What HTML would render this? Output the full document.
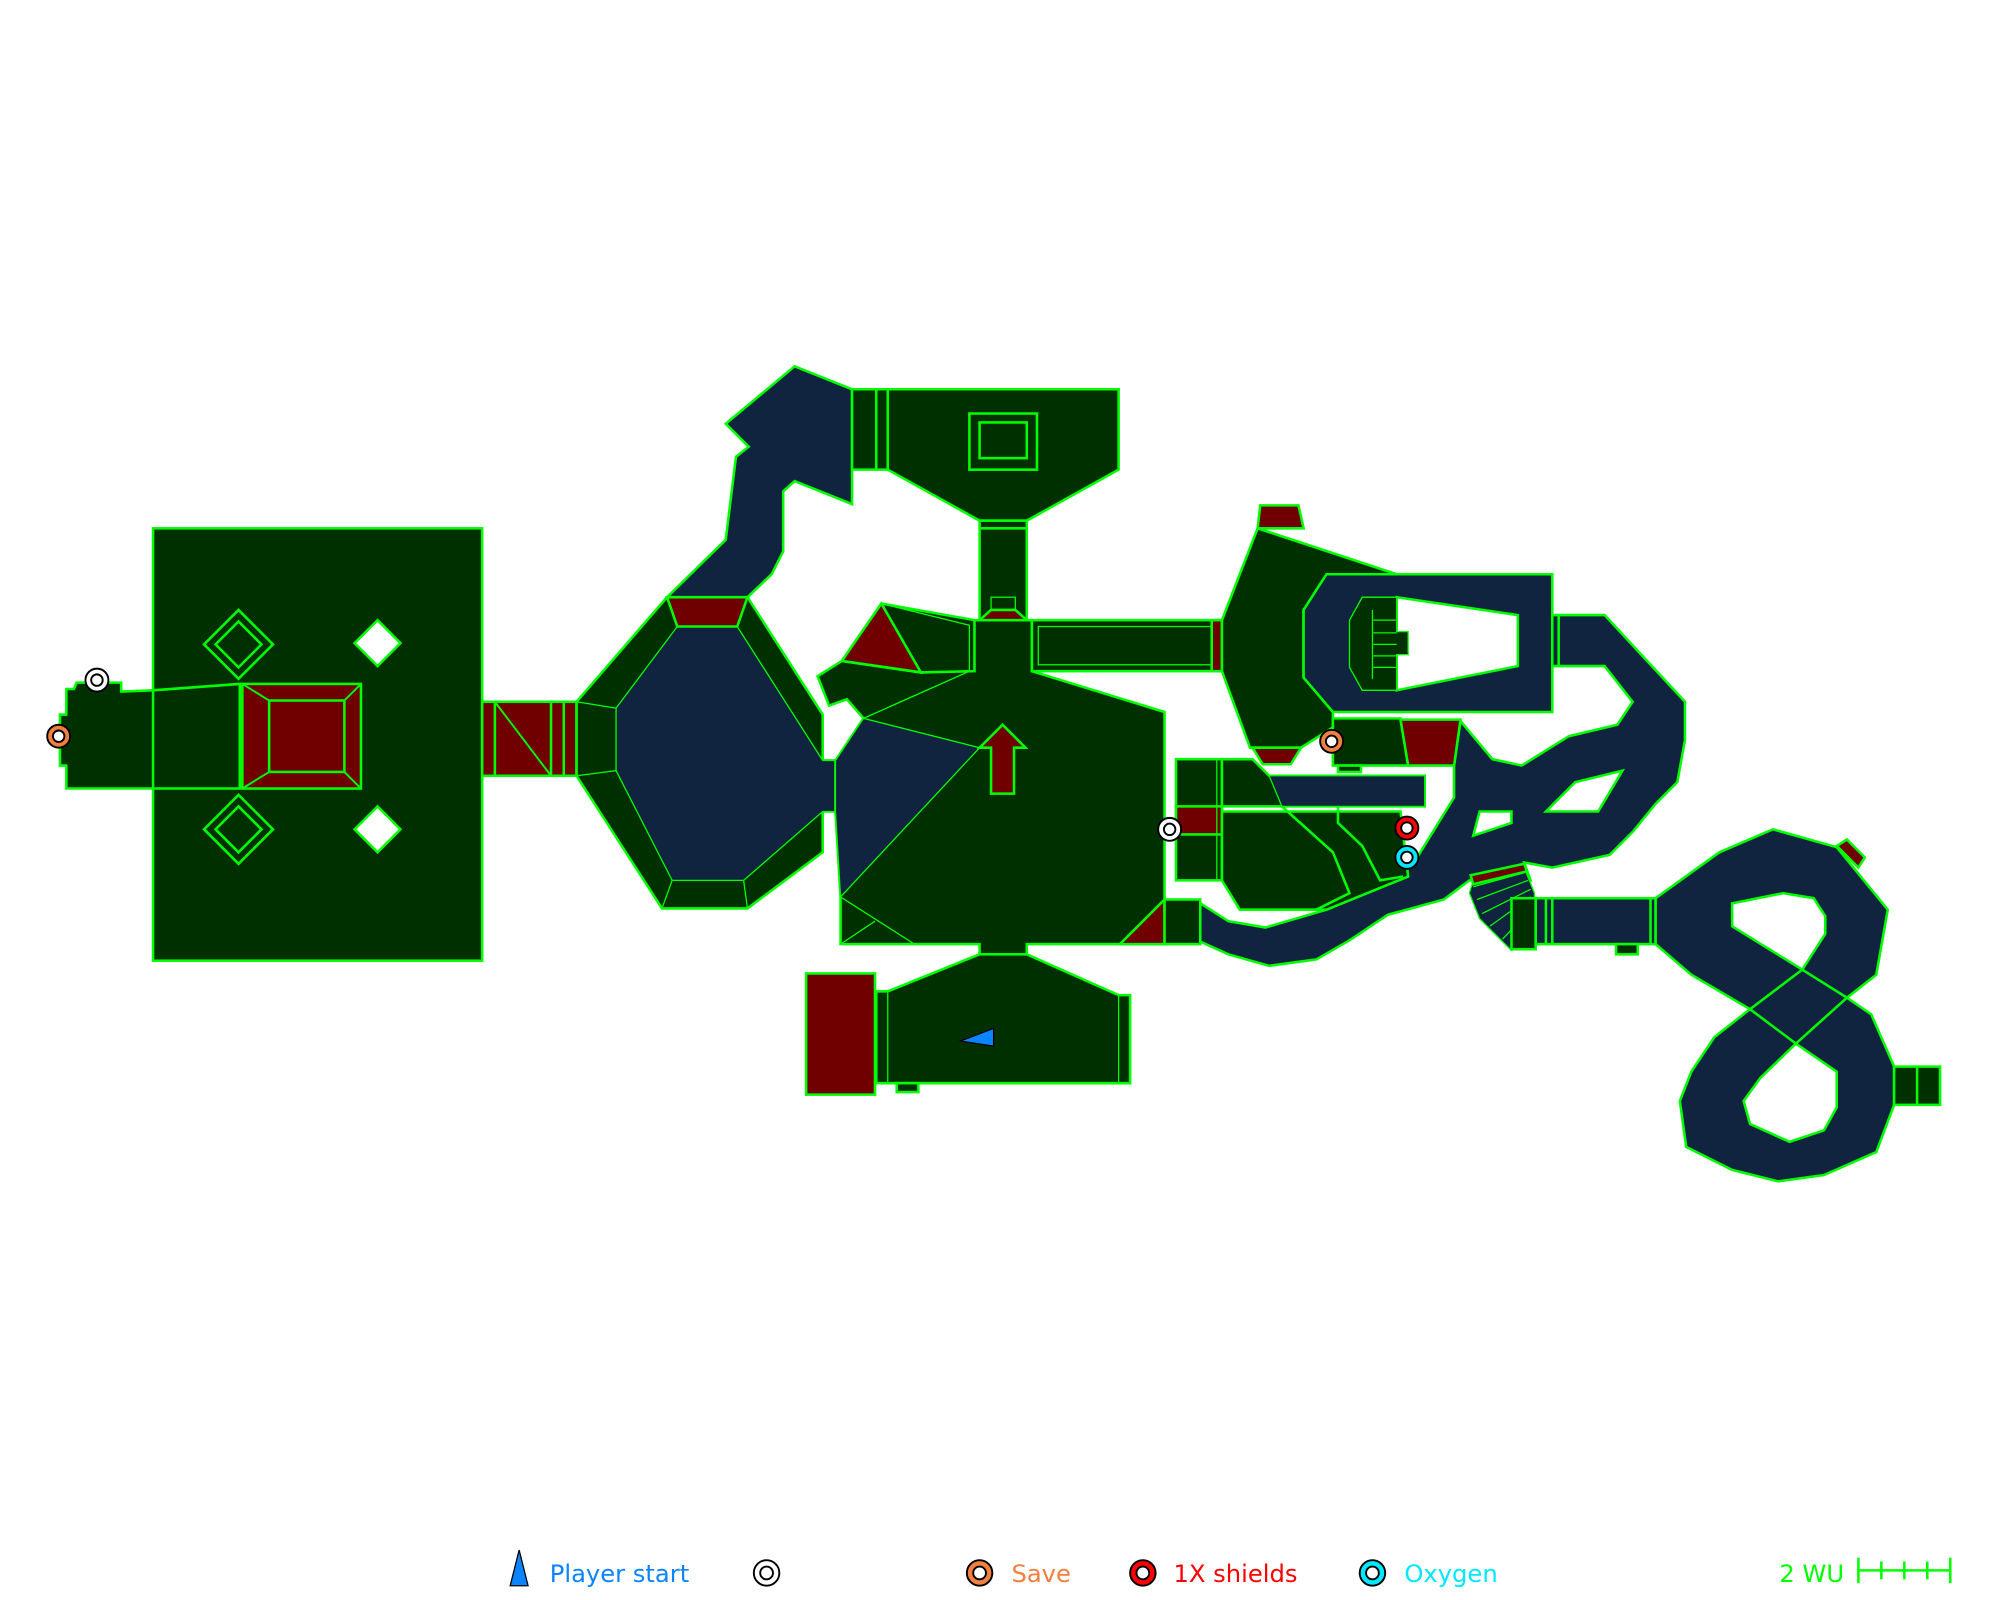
<!DOCTYPE html>
<html><head><meta charset="utf-8"><style>html,body{margin:0;padding:0;background:#fff}svg{display:block}</style></head>
<body>
<svg width="2000" height="1600" viewBox="0 0 1568 1254" xmlns="http://www.w3.org/2000/svg" font-family="DejaVu Sans, Liberation Sans, sans-serif">
<g stroke="#00ff00" stroke-width="2" stroke-linejoin="miter">
<rect x="120" y="414" width="258" height="339" fill="#003000"/>
<polygon points="52,540 58,540 60,535 95,535 95,542 120,541 188,536 188,618 52,618 52,600 47,600 47,560 52,560" fill="#003000"/>
<line x1="120" y1="541" x2="120" y2="618"/>
<rect x="190" y="536" width="93" height="82" fill="#700000"/>
<rect x="211" y="549" width="59" height="56" fill="#700000"/>
<line x1="190" y1="536" x2="211" y2="549" stroke-width="1.5"/><line x1="283" y1="536" x2="270" y2="549" stroke-width="1.5"/>
<line x1="190" y1="618" x2="211" y2="605" stroke-width="1.5"/><line x1="283" y1="618" x2="270" y2="605" stroke-width="1.5"/>
<polygon points="187,478 214,505 187,532 160,505" fill="#003000"/>
<polygon points="187,487 205,505 187,523 169,505" fill="none"/>
<polygon points="187,623 214,650 187,677 160,650" fill="#003000"/>
<polygon points="187,632 205,650 187,668 169,650" fill="none"/>
<polygon points="296,486 314,504 296,522 278,504" fill="#fff"/>
<polygon points="296,632 314,650 296,668 278,650" fill="#fff"/>
<rect x="378" y="550" width="74" height="58" fill="#700000"/>
<line x1="388" y1="550" x2="388" y2="608"/><line x1="388" y1="550" x2="432" y2="608" stroke-width="1.5"/>
<line x1="432" y1="550" x2="432" y2="608"/><line x1="442" y1="550" x2="442" y2="608"/>
<polygon points="452,550 523,468 586,468 645,560 645,596 655,596 655,636 645,636 645,668 586,712 519,712 452,608" fill="#003000"/>
<polygon points="483,555 531,491 578,491 645,596 655,596 655,636 645,636 583,690 527,690 483,604" fill="#102440" stroke-width="1"/>
<polygon points="523,468 586,468 578,491 531,491" fill="#700000"/>
<line x1="452" y1="550" x2="483" y2="555" stroke-width="1"/><line x1="452" y1="608" x2="483" y2="604" stroke-width="1"/>
<line x1="519" y1="712" x2="527" y2="690" stroke-width="1"/><line x1="586" y1="712" x2="583" y2="690" stroke-width="1"/>
<polygon points="523,468 569,423 577,358 587,350 569,332 623,287 668,305 668,395 623,377 614,385 614,432 605,450 586,468" fill="#102440"/>
<polygon points="668,305 877,305 877,368 805,408 768,408 696,368 668,368" fill="#003000"/>
<line x1="687" y1="305" x2="687" y2="368"/><line x1="696" y1="305" x2="696" y2="368"/>
<rect x="760" y="324" width="53" height="44" fill="#003000"/>
<rect x="768" y="331" width="37" height="28" fill="none"/>
<rect x="768" y="408" width="37" height="78" fill="#003000"/>
<line x1="768" y1="414" x2="805" y2="414"/>
<rect x="777" y="468" width="19" height="10" fill="none" stroke-width="1"/>
<polygon points="764,486 809,486 809,526 913,558 913,740 805,740 805,750 768,750 768,740 659,740 659,703 655,636 655,596 677,563 664,548 650,553 641,530 660,518 691,473 764,486" fill="#003000"/>
<polygon points="655,596 677,563 768,586 659,703 655,636" fill="#102440" stroke-width="1"/>
<polygon points="660,518 691,473 722,527" fill="#700000"/>
<polyline points="660,518 722,527 764,526 764,486" fill="none"/>
<polyline points="691,473 760,490 760,526 677,563" fill="none" stroke-width="1"/>
<polygon points="768,486 777,478 796,478 805,486" fill="#700000"/>
<polygon points="786,568 804,586 795,586 795,622 777,622 777,586 768,586" fill="#700000"/>
<line x1="659" y1="703" x2="717" y2="740" stroke-width="1"/><line x1="659" y1="740" x2="686" y2="722" stroke-width="1"/>
<polygon points="878,740 913,705 913,740" fill="#700000"/>
<rect x="809" y="486" width="149" height="40" fill="#003000"/>
<rect x="814" y="491" width="136" height="30" fill="none" stroke-width="1"/>
<rect x="950" y="486" width="8" height="40" fill="#700000"/>
<polygon points="687,777 696,777 768,748 805,748 877,780 886,780 886,849 687,849" fill="#003000"/>
<line x1="696" y1="777" x2="696" y2="849" stroke-width="1"/><line x1="877" y1="780" x2="877" y2="849" stroke-width="1"/>
<rect x="632" y="763" width="54" height="95" fill="#700000"/>
<rect x="703" y="849" width="17" height="7" fill="#003000"/>
<polygon points="753,816 779,806 779,820" fill="#0a84ff" stroke="#000" stroke-width="1"/>
<polygon points="986,414 1095,450 1040,450 1022,478 1022,531 1045,558 1045,570 1020,586 980,586 958,526 958,486" fill="#003000"/>
<polygon points="988,396 1018,396 1022,414 986,414" fill="#700000"/>
<polygon points="982,586 1020,586 1012,599 990,599" fill="#700000"/>
<polygon points="1040,450 1217,450 1217,558 1045,558 1022,531 1022,478" fill="#102440"/>
<polygon points="1095,468 1190,482 1190,522 1095,541" fill="#fff"/>
<polygon points="1068,468 1095,468 1095,495 1104,495 1104,513 1095,513 1095,541 1068,541 1058,523 1058,486" fill="#003000" stroke-width="1"/>
<g stroke-width="1"><line x1="1076" y1="478" x2="1076" y2="532"/><line x1="1076" y1="486" x2="1095" y2="486"/><line x1="1076" y1="496" x2="1095" y2="496"/><line x1="1076" y1="505" x2="1095" y2="505"/><line x1="1076" y1="514" x2="1095" y2="514"/><line x1="1076" y1="523" x2="1095" y2="523"/></g>
<polygon points="1217,482 1258,482 1321,550 1321,580 1315,613 1298,630 1280,652 1262,670 1217,680 1195,676 1200,690 1152,690 1132,705 1088,717 1058,737 1032,752 995,757 963,748 941,738 941,708 963,722 992,727 1040,713 1098,687 1108,677 1140,625 1140,600 1145,565 1170,595 1193,600 1230,577 1268,568 1280,550 1258,522 1217,522" fill="#102440"/>
<line x1="1222" y1="482" x2="1222" y2="522"/>
<polygon points="1155,655 1160,636 1185,636 1185,645" fill="#fff"/>
<polygon points="1212,636 1235,613 1272,604 1253,636" fill="#fff"/>
<polygon points="1045,563 1098,563 1104,600 1045,600" fill="#003000"/>
<polygon points="1098,564 1145,564 1140,600 1104,600" fill="#700000"/>
<rect x="1049" y="600" width="18" height="5" fill="#003000"/>
<rect x="913" y="705" width="28" height="35" fill="#003000"/>
<rect x="922" y="595" width="36" height="95" fill="#003000"/>
<rect x="922" y="632" width="36" height="22" fill="#700000"/>
<line x1="954" y1="595" x2="954" y2="690" stroke-width="1"/>
<polygon points="958,595 982,595 995,608 1117,608 1117,632 958,632" fill="#003000"/>
<polygon points="995,608 1117,608 1117,632 1005,632" fill="#102440" stroke-width="1"/>
<polygon points="958,636 1098,636 1104,687 1040,713 972,713 958,690" fill="#003000"/>
<polyline points="1005,632 1045,668 1058,700 1032,713" fill="none"/>
<polyline points="1049,632 1049,645 1068,663 1082,690 1100,687" fill="none"/>
<polygon points="1155,690 1195,680 1203,700 1203,740 1185,745 1175,735 1160,720 1152,700" fill="#102440" stroke-width="1"/>
<g stroke-width="1"><line x1="1195" y1="684" x2="1155" y2="695"/><line x1="1198" y1="690" x2="1158" y2="705"/><line x1="1200" y1="697" x2="1162" y2="716"/><line x1="1200" y1="703" x2="1168" y2="726"/><line x1="1203" y1="710" x2="1178" y2="736"/><line x1="1203" y1="720" x2="1186" y2="742"/></g>
<polygon points="1153,686 1195,677 1197,683 1155,693" fill="#700000"/>
<rect x="1185" y="704" width="19" height="40" fill="#003000"/>
<rect x="1204" y="704" width="94" height="36" fill="#102440"/>
<line x1="1212" y1="704" x2="1212" y2="740"/><line x1="1217" y1="704" x2="1217" y2="740"/><line x1="1294" y1="704" x2="1294" y2="740"/>
<rect x="1267" y="740" width="17" height="8" fill="#003000"/>
<polygon points="1298,704 1348,668 1390,650 1440,664 1480,713 1471,764 1448,782 1467,795 1485,836 1485,866 1471,903 1430,921 1394,926 1358,917 1322,899 1317,863 1326,840 1344,813 1372,791 1326,764 1298,740" fill="#102440"/>
<polygon points="1358,708 1398,700 1422,704 1431,718 1431,732 1413,760 1358,726" fill="#fff"/>
<polygon points="1380,845 1408,818 1440,840 1440,868 1430,886 1403,895 1372,881 1367,863" fill="#fff"/>
<polyline points="1413,760 1372,791 1408,818 1448,782 1413,760" fill="none"/>
<polygon points="1440,663 1448,658 1462,672 1457,680" fill="#700000"/>
<rect x="1485" y="836" width="36" height="30" fill="#003000"/>
<line x1="1503" y1="836" x2="1503" y2="866"/>
</g>
<g stroke-width="1.5" stroke="#000">
<circle cx="76" cy="533" r="9" fill="#fff"/><circle cx="76" cy="533" r="4.5" fill="#fff"/>
<circle cx="46" cy="577" r="9" fill="#f08040"/><circle cx="46" cy="577" r="4.5" fill="#fff"/>
<circle cx="917" cy="650" r="9" fill="#fff"/><circle cx="917" cy="650" r="4.5" fill="#fff"/>
<circle cx="1044" cy="581" r="9" fill="#f08040"/><circle cx="1044" cy="581" r="4.5" fill="#fff"/>
<circle cx="1103" cy="649" r="9" fill="#ff0000"/><circle cx="1103" cy="649" r="4.5" fill="#fff"/>
<circle cx="1103" cy="672" r="9" fill="#00e8ff"/><circle cx="1103" cy="672" r="4.5" fill="#fff"/>
</g>
<polygon points="400,1243 407,1215 414,1243" fill="#0a84ff" stroke="#000" stroke-width="1"/>
<text x="431" y="1240" font-size="19" fill="#0a84ff">Player start</text>
<g stroke="#000" stroke-width="1.5">
<circle cx="601" cy="1233" r="10" fill="#fff"/><circle cx="601" cy="1233" r="5" fill="#fff"/>
<circle cx="768" cy="1233" r="10" fill="#f08040"/><circle cx="768" cy="1233" r="5" fill="#fff"/>
<circle cx="896" cy="1233" r="10" fill="#ff0000"/><circle cx="896" cy="1233" r="5" fill="#fff"/>
<circle cx="1076" cy="1233" r="10" fill="#00e8ff"/><circle cx="1076" cy="1233" r="5" fill="#fff"/>
</g>
<text x="793" y="1240" font-size="19" fill="#f08040">Save</text>
<text x="920" y="1240" font-size="19" fill="#ff0000">1X shields</text>
<text x="1101" y="1240" font-size="19" fill="#00e8ff">Oxygen</text>
<text x="1395" y="1240" font-size="19" fill="#00ff00">2 WU</text>
<g stroke="#00ff00" stroke-width="2"><line x1="1457" y1="1231" x2="1529" y2="1231"/><line x1="1457" y1="1221" x2="1457" y2="1241"/><line x1="1475" y1="1224" x2="1475" y2="1238"/><line x1="1493" y1="1224" x2="1493" y2="1238"/><line x1="1511" y1="1224" x2="1511" y2="1238"/><line x1="1529" y1="1221" x2="1529" y2="1241"/></g>
</svg>
</body></html>
